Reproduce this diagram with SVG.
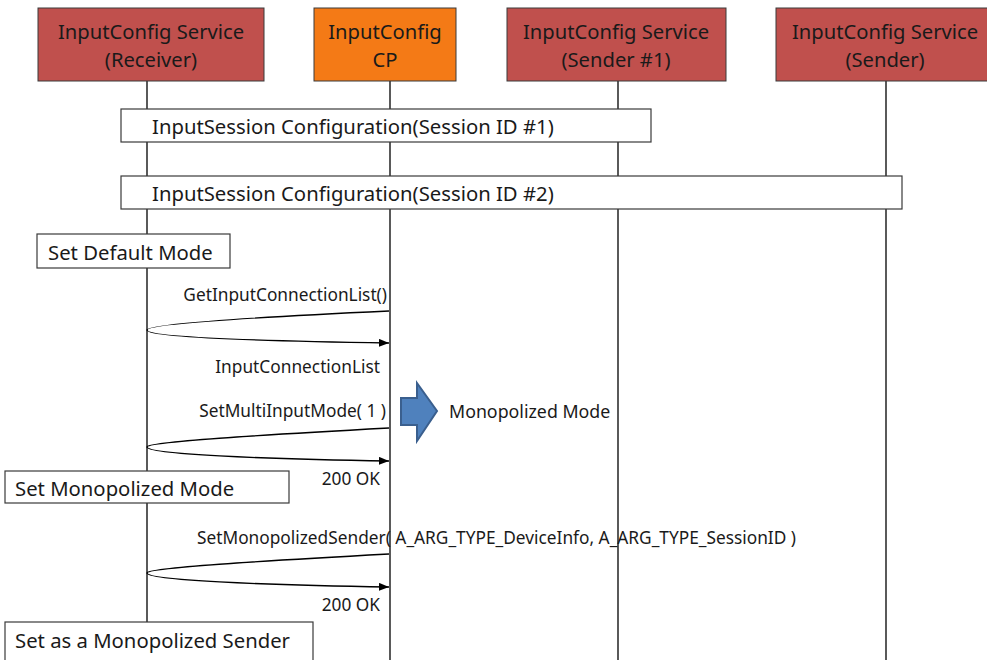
<svg xmlns="http://www.w3.org/2000/svg" width="987" height="660" viewBox="0 0 987 660">
<style>
text{font-family:"Noto Sans","Open Sans","DejaVu Sans",sans-serif;fill:#1a1a1a}
.hdr{font-size:20.2px;text-anchor:middle}
.svc{fill:#C0504D;stroke:#3a3a3a;stroke-width:1}
.cp{fill:#F47A16;stroke:#3a3a3a;stroke-width:1}
.life{stroke:#000;stroke-width:1.3;fill:none}
.box{fill:#fff;stroke:#3a3a3a;stroke-width:1.2}
.big{font-size:20.3px}
.msg{font-size:17.3px}
.end{text-anchor:end}
.curve{fill:none;stroke:#000;stroke-width:1.3}
</style>
<defs>
<marker id="ah" viewBox="0 0 10 8" refX="10" refY="4" markerWidth="10" markerHeight="8" markerUnits="userSpaceOnUse" orient="auto">
<path d="M0,0 L10,4 L0,8 Z" fill="#000"/>
</marker>
</defs>
<g id="lifelines">
<line class="life" x1="147" y1="81" x2="147" y2="660"/>
<line class="life" x1="390" y1="81" x2="390" y2="660"/>
<line class="life" x1="618" y1="81" x2="618" y2="660"/>
<line class="life" x1="886" y1="81" x2="886" y2="660"/>
</g>
<g id="receiver">
<rect class="svc" x="38" y="8" width="226" height="73"/>
<text class="hdr" x="151" y="39">InputConfig Service</text>
<text class="hdr" x="151" y="67">(Receiver)</text>
</g>
<g id="cp">
<rect class="cp" x="314" y="8" width="142" height="73"/>
<text class="hdr" x="385" y="39">InputConfig</text>
<text class="hdr" x="385" y="67">CP</text>
</g>
<g id="sender1">
<rect class="svc" x="507" y="8" width="219" height="73"/>
<text class="hdr" x="616" y="39">InputConfig Service</text>
<text class="hdr" x="616" y="67">(Sender #1)</text>
</g>
<g id="sender">
<rect class="svc" x="776" y="8" width="215" height="73"/>
<text class="hdr" x="885" y="39">InputConfig Service</text>
<text class="hdr" x="885" y="67">(Sender)</text>
</g>
<g id="session1">
<rect class="box" x="121" y="109" width="530" height="33"/>
<text class="big" x="152" y="134">InputSession Configuration(Session ID #1)</text>
</g>
<g id="session2">
<rect class="box" x="121" y="176" width="781" height="33"/>
<text class="big" x="152" y="201">InputSession Configuration(Session ID #2)</text>
</g>
<g id="setDefault">
<rect class="box" x="37" y="234" width="193" height="34"/>
<text class="big" x="48" y="260">Set Default Mode</text>
</g>
<g id="setMonoMode">
<rect class="box" x="5" y="471" width="284" height="32"/>
<text class="big" x="15" y="496">Set Monopolized Mode</text>
</g>
<g id="setMonoSender">
<rect class="box" x="5" y="622" width="308" height="45"/>
<text class="big" x="15" y="648">Set as a Monopolized Sender</text>
</g>
<g id="connectors">
<path class="curve" d="M389,311 C260,317 147,324 147,330 C147,337 260,341 389,343" marker-end="url(#ah)"/>
<path class="curve" d="M389,428 C260,435 147,442 147,447 C147,454 260,459 389,461" marker-end="url(#ah)"/>
<path class="curve" d="M389,554 C260,561 147,568 147,573 C147,580 260,585 389,587" marker-end="url(#ah)"/>
</g>
<g id="labels">
<text class="msg end" x="387" y="301">GetInputConnectionList()</text>
<text class="msg end" x="380" y="373">InputConnectionList</text>
<text class="msg end" x="386" y="417">SetMultiInputMode( 1 )</text>
<text class="msg end" x="380" y="485">200 OK</text>
<text class="msg" x="197" y="544">SetMonopolizedSender( A_ARG_TYPE_DeviceInfo, A_ARG_TYPE_SessionID )</text>
<text class="msg end" x="380" y="611">200 OK</text>
</g>
<g id="modeArrow">
<polygon points="401,398 417,398 417,383 437,411 417,441 417,425 401,425" fill="#4F81BD" stroke="#3A5F8E" stroke-width="2"/>
<text class="msg" x="449" y="418" style="font-size:17.8px">Monopolized Mode</text>
</g>
</svg>
